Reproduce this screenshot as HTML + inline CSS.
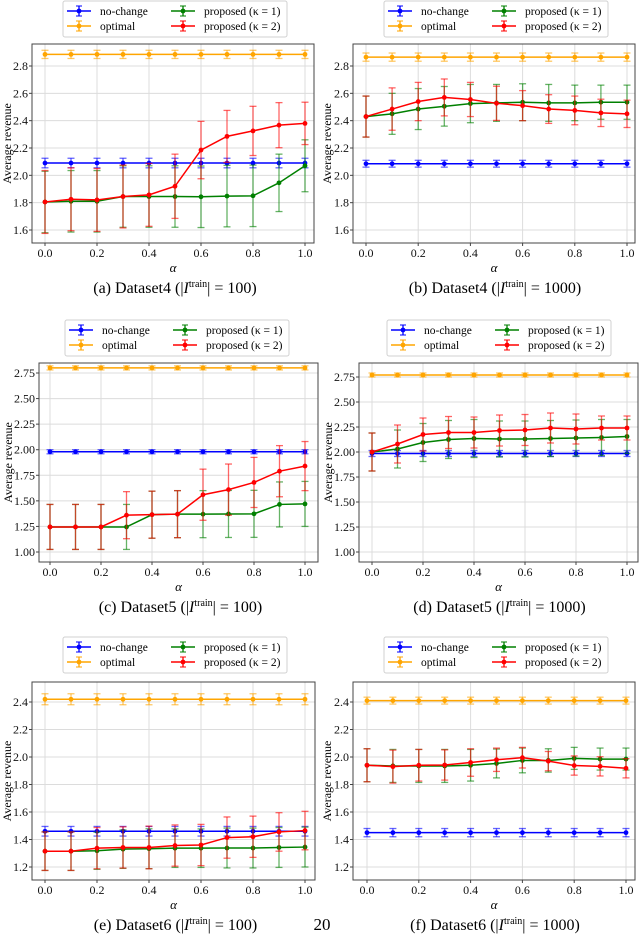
<!DOCTYPE html>
<html><head><meta charset="utf-8">
<style>
body{margin:0;background:#fff;}
svg{display:block;font-family:"Liberation Serif",serif;}
</style></head>
<body>
<svg id="fig" width="640" height="936" viewBox="0 0 640 936" xmlns="http://www.w3.org/2000/svg"></svg>
<script>
const alphas=[0,0.1,0.2,0.3,0.4,0.5,0.6,0.7,0.8,0.9,1.0];
const xTicks=[0,0.2,0.4,0.6,0.8,1.0];
// Panel (a)
const aNoChange=[2.09,0.035], aOptimal=[2.885,0.03];
const aK1=[1.805,1.81,1.81,1.845,1.845,1.845,1.843,1.848,1.85,1.945,2.07];
const aK1Err=[0.225,0.225,0.225,0.225,0.225,0.225,0.225,0.225,0.225,0.21,0.19];
const aK2=[1.805,1.825,1.82,1.845,1.857,1.92,2.185,2.285,2.325,2.367,2.38];
const aK2Err=[0.23,0.23,0.23,0.23,0.23,0.235,0.21,0.19,0.18,0.165,0.155];
const aTicks=[1.6,1.8,2.0,2.2,2.4,2.6,2.8];
// Panel (b)
const bNoChange=[2.085,0.025], bOptimal=[2.865,0.03];
const bK1=[2.43,2.45,2.485,2.505,2.525,2.53,2.535,2.53,2.53,2.535,2.535];
const bK1Err=[0.15,0.15,0.15,0.145,0.14,0.135,0.135,0.135,0.13,0.125,0.125];
const bK2=[2.43,2.485,2.54,2.57,2.555,2.527,2.51,2.485,2.475,2.457,2.45];
const bK2Err=[0.15,0.155,0.14,0.135,0.125,0.125,0.11,0.105,0.105,0.1,0.1];
const bTicks=[1.6,1.8,2.0,2.2,2.4,2.6,2.8];
// Panel (c)
const cNoChange=[1.98,0.02], cOptimal=[2.80,0.02];
const cK1=[1.245,1.245,1.245,1.245,1.365,1.37,1.37,1.372,1.373,1.465,1.47];
const cK1Err=[0.22,0.22,0.22,0.22,0.23,0.23,0.23,0.23,0.23,0.22,0.22];
const cK2=[1.245,1.245,1.245,1.36,1.365,1.37,1.56,1.61,1.68,1.79,1.84];
const cK2Err=[0.22,0.22,0.22,0.23,0.23,0.23,0.25,0.25,0.245,0.25,0.24];
const cTicks=[1.00,1.25,1.50,1.75,2.00,2.25,2.50,2.75];
// Panel (d)
const dNoChange=[1.985,0.03], dOptimal=[2.77,0.02];
const dK1=[2.0,2.03,2.095,2.125,2.135,2.13,2.13,2.135,2.14,2.145,2.155];
const dK1Err=[0.19,0.19,0.19,0.19,0.19,0.18,0.18,0.18,0.18,0.18,0.17];
const dK2=[2.0,2.08,2.175,2.195,2.195,2.215,2.22,2.24,2.23,2.24,2.24];
const dK2Err=[0.19,0.19,0.165,0.16,0.155,0.155,0.155,0.15,0.15,0.12,0.12];
const dTicks=[1.00,1.25,1.50,1.75,2.00,2.25,2.50,2.75];
// Panel (e)
const eNoChange=[1.46,0.035], eOptimal=[2.42,0.04];
const eK1=[1.315,1.315,1.318,1.33,1.333,1.337,1.337,1.338,1.338,1.342,1.345];
const eK1Err=[0.14,0.14,0.135,0.14,0.145,0.14,0.14,0.145,0.145,0.145,0.145];
const eK2=[1.315,1.315,1.337,1.342,1.342,1.356,1.36,1.414,1.42,1.455,1.465];
const eK2Err=[0.14,0.14,0.15,0.15,0.155,0.15,0.15,0.15,0.15,0.14,0.14];
const eTicks=[1.2,1.4,1.6,1.8,2.0,2.2,2.4];
// Panel (f)
const fNoChange=[1.45,0.03], fOptimal=[2.41,0.025];
const fK1=[1.94,1.935,1.935,1.935,1.94,1.953,1.975,1.975,1.99,1.985,1.985];
const fK1Err=[0.12,0.12,0.12,0.12,0.115,0.105,0.09,0.085,0.08,0.08,0.08];
const fK2=[1.94,1.93,1.94,1.942,1.96,1.98,1.995,1.97,1.938,1.932,1.918];
const fK2Err=[0.12,0.12,0.115,0.11,0.1,0.085,0.075,0.07,0.07,0.07,0.07];
const fTicks=[1.2,1.4,1.6,1.8,2.0,2.2,2.4];

const NS="http://www.w3.org/2000/svg";
const svg=document.getElementById('fig');
function mk(tag,attrs,parent,txt){const e=document.createElementNS(NS,tag);for(const k in attrs)e.setAttribute(k,attrs[k]);if(txt!==undefined)e.textContent=txt;(parent||svg).appendChild(e);return e;}

const panels=[
 {id:'a',cap:'(a) Dataset4',n:'100',L:32,R:314,T:44,B:243,x0:45,x1:305,vA:2.8,pA:66,vB:1.6,pB:230,ticks:aTicks,dec:1,nc:aNoChange,op:aOptimal,k1:aK1,k1e:aK1Err,k2:aK2,k2e:aK2Err,lx:63,ly:1},
 {id:'b',cap:'(b) Dataset4',n:'1000',L:353,R:635,T:44,B:243,x0:366,x1:627,vA:2.8,pA:66,vB:1.6,pB:230,ticks:bTicks,dec:1,nc:bNoChange,op:bOptimal,k1:bK1,k1e:bK1Err,k2:bK2,k2e:bK2Err,lx:384,ly:1},
 {id:'c',cap:'(c) Dataset5',n:'100',L:39,R:318,T:363,B:562,x0:50,x1:305,vA:2.75,pA:373,vB:1.0,pB:552,ticks:cTicks,dec:2,nc:cNoChange,op:cOptimal,k1:cK1,k1e:cK1Err,k2:cK2,k2e:cK2Err,lx:65,ly:320},
 {id:'d',cap:'(d) Dataset5',n:'1000',L:359,R:638,T:363,B:562,x0:372,x1:627,vA:2.75,pA:377,vB:1.0,pB:552,ticks:dTicks,dec:2,nc:dNoChange,op:dOptimal,k1:dK1,k1e:dK1Err,k2:dK2,k2e:dK2Err,lx:387,ly:320},
 {id:'e',cap:'(e) Dataset6',n:'100',L:32,R:315,T:682,B:880,x0:45,x1:305,vA:2.4,pA:702,vB:1.2,pB:867,ticks:eTicks,dec:1,nc:eNoChange,op:eOptimal,k1:eK1,k1e:eK1Err,k2:eK2,k2e:eK2Err,lx:63,ly:637},
 {id:'f',cap:'(f) Dataset6',n:'1000',L:353,R:635,T:682,B:880,x0:367,x1:626,vA:2.4,pA:702,vB:1.2,pB:867,ticks:fTicks,dec:1,nc:fNoChange,op:fOptimal,k1:fK1,k1e:fK1Err,k2:fK2,k2e:fK2Err,lx:384,ly:637}
];
const COLS={nc:'#0000ff',op:'#ffa500',k1:'#008000',k2:'#ff0000'};

function series(g,xs,ys,es,col,name,sx,sy){
  const sg=mk('g',{},g);
  
  
  xs.forEach((a,i)=>{const x=sx(a),y1=sy(ys[i]+es[i]),y2=sy(ys[i]-es[i]);
    const eb=mk('g',{stroke:col,'stroke-opacity':0.6,'stroke-width':1.3},sg);
    
    
    mk('line',{x1:x,x2:x,y1:y1,y2:y2},eb);
    mk('line',{x1:x-3.5,x2:x+3.5,y1:y1,y2:y1},eb);
    mk('line',{x1:x-3.5,x2:x+3.5,y1:y2,y2:y2},eb);
  });
  mk('polyline',{points:xs.map((a,i)=>sx(a)+','+sy(ys[i])).join(' '),fill:'none',stroke:col,'stroke-width':1.5},sg);
  xs.forEach((a,i)=>{const p=mk('circle',{cx:sx(a),cy:sy(ys[i]),r:2.4,fill:col},sg);
    
    });
}

panels.forEach(P=>{
  const g=mk('g',{});
  
  
  const sx=a=>P.x0+(P.x1-P.x0)*a;
  const sy=v=>P.pB+(v-P.vB)*(P.pA-P.pB)/(P.vA-P.vB);
  xTicks.forEach(t=>mk('line',{x1:sx(t),x2:sx(t),y1:P.T,y2:P.B,stroke:'#dcdcdc','stroke-width':1},g));
  P.ticks.forEach(t=>mk('line',{x1:P.L,x2:P.R,y1:sy(t),y2:sy(t),stroke:'#dcdcdc','stroke-width':1},g));
  series(g,alphas,alphas.map(()=>P.nc[0]),alphas.map(()=>P.nc[1]),COLS.nc,'no-change-series',sx,sy);
  series(g,alphas,alphas.map(()=>P.op[0]),alphas.map(()=>P.op[1]),COLS.op,'optimal-series',sx,sy);
  series(g,alphas,P.k1,P.k1e,COLS.k1,'proposed-k1-series',sx,sy);
  series(g,alphas,P.k2,P.k2e,COLS.k2,'proposed-k2-series',sx,sy);
  const fr=mk('rect',{x:P.L,y:P.T,width:P.R-P.L,height:P.B-P.T,fill:'none',stroke:'#444','stroke-width':1},g);
  
  
  const xa=mk('g',{'font-size':12,'text-anchor':'middle',fill:'#111'},g);
  
  
  xTicks.forEach(t=>{mk('line',{x1:sx(t),x2:sx(t),y1:P.B,y2:P.B+3,stroke:'#444'},xa);mk('text',{x:sx(t),y:P.B+14},xa,t.toFixed(1));});
  const ya=mk('g',{'font-size':12,'text-anchor':'end',fill:'#111'},g);
  
  
  P.ticks.forEach(t=>{mk('line',{x1:P.L-3,x2:P.L,y1:sy(t),y2:sy(t),stroke:'#444'},ya);mk('text',{x:P.L-4,y:sy(t)+4},ya,t.toFixed(P.dec));});
  const xt=mk('text',{x:(P.L+P.R)/2,y:P.B+29,'font-size':13,'font-style':'italic','text-anchor':'middle'},g,'α');
  
  
  const yx=P.L<100?(P.L>35?8:7):(P.L>355?328:327);
  const ytEl=mk('text',{x:yx+4,y:(P.T+P.B)/2,'font-size':12,'text-anchor':'middle',transform:`rotate(-90 ${yx+4} ${(P.T+P.B)/2})`},g,'Average revenue');
  
  
  const cap=mk('text',{x:(P.L+P.R)/2+(P.L<100?2:1),y:P.B+50,'font-size':16,'text-anchor':'middle'},g);
  
  
  mk('tspan',{},cap,P.cap+' (|');
  mk('tspan',{'font-style':'italic'},cap,'I');
  mk('tspan',{dy:-6,'font-size':10},cap,'train');
  mk('tspan',{dy:6},cap,'| = '+P.n+')');
  const lg=mk('g',{},g);
  
  
  mk('rect',{x:P.lx,y:P.ly,width:224,height:36,rx:2,fill:'#fff',stroke:'#d0d0d0'},lg);
  const ents=[['no-change',COLS.nc,0,0],['optimal',COLS.op,0,1],['proposed (κ = 1)',COLS.k1,1,0],['proposed (κ = 2)',COLS.k2,1,1]];
  ents.forEach(e=>{
    const eg=mk('g',{},lg);
    
    
    const hx=P.lx+4+e[2]*104, cy=P.ly+10+e[3]*15;
    mk('line',{x1:hx,x2:hx+24,y1:cy,y2:cy,stroke:e[1],'stroke-width':1.5},eg);
    mk('line',{x1:hx+12,x2:hx+12,y1:cy-5,y2:cy+5,stroke:e[1],'stroke-width':1.3},eg);
    mk('line',{x1:hx+9,x2:hx+15,y1:cy-5,y2:cy-5,stroke:e[1]},eg);
    mk('line',{x1:hx+9,x2:hx+15,y1:cy+5,y2:cy+5,stroke:e[1]},eg);
    mk('circle',{cx:hx+12,cy:cy,r:2.4,fill:e[1]},eg);
    mk('text',{x:hx+33,y:cy+4,'font-size':11.5},eg,e[0]);
  });
});
const pn=mk('text',{x:322,y:930,'font-size':17,'text-anchor':'middle'},svg,'20');


</script>
</body></html>
